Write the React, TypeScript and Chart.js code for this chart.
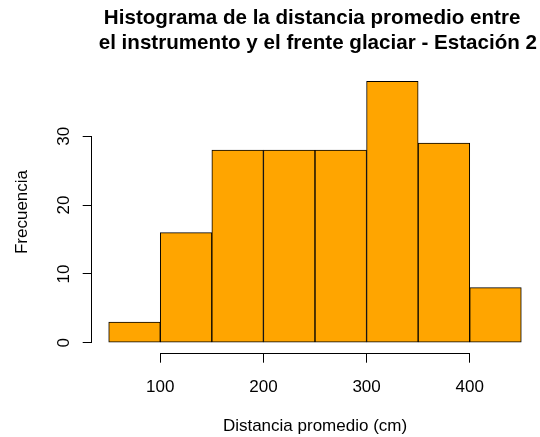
import React, { useEffect, useRef } from "react";
import { Chart, registerables } from "chart.js";

Chart.register(...registerables);

// ---- data ----
const binStarts = [50, 100, 150, 200, 250, 300, 350, 400];
const binWidth = 50;
const frequencies = [3, 16, 28, 28, 28, 38, 29, 8];
const xTicks = [100, 200, 300, 400];
const yTicks = [0, 10, 20, 30];
const titleLines = [
  "Histograma de la distancia promedio entre ",
  " el instrumento y el frente glaciar - Estación 2",
];
const xLabel = "Distancia promedio (cm)";
const yLabel = "Frecuencia";

const FONT = '"Liberation Sans", Arial, Helvetica, sans-serif';

const rAxes = {
  id: "rAxes",
  afterDraw(chart: any) {
    const { ctx } = chart;
    const x = chart.scales.x;
    const y = chart.scales.y;
    ctx.save();
    ctx.strokeStyle = "#000";
    ctx.lineWidth = 1;
    ctx.beginPath();
    const ay = Math.round(x.top) + 0.5;
    ctx.moveTo(x.getPixelForValue(xTicks[0]), ay);
    ctx.lineTo(x.getPixelForValue(xTicks[xTicks.length - 1]), ay);
    const ax = Math.round(y.right) - 0.5;
    ctx.moveTo(ax, y.getPixelForValue(yTicks[0]));
    ctx.lineTo(ax, y.getPixelForValue(yTicks[yTicks.length - 1]));
    ctx.stroke();
    ctx.restore();
  },
};

export default function App() {
  const ref = useRef<HTMLCanvasElement | null>(null);

  useEffect(() => {
    if (!ref.current) return;
    const data = binStarts.map((s, i) => ({ x: s + binWidth / 2, y: frequencies[i] }));
    const chart = new Chart(ref.current, {
      type: "bar",
      data: {
        datasets: [
          {
            data: data as any,
            backgroundColor: "#FFA500",
            borderColor: "#000",
            borderWidth: 1,
            borderSkipped: false,
            barPercentage: 1,
            categoryPercentage: 1,
          },
        ],
      },
      plugins: [rAxes],
      options: {
        responsive: false,
        animation: false,
        events: [],
        layout: { padding: { left: 0, right: 2.2, top: 0, bottom: 0 } },
        plugins: {
          legend: { display: false },
          tooltip: { enabled: false },
          title: {
            display: true,
            text: titleLines,
            fullSize: false,
            position: "top",
            align: "center",
            color: "#000",
            font: { family: FONT, size: 20.6, weight: "bold", lineHeight: "24.5px" },
            padding: { top: 6.3, bottom: 15.5 },
          },
        },
        scales: {
          x: {
            type: "linear",
            min: 34,
            max: 466,
            offset: false,
            afterBuildTicks: (scale: any) => {
              scale.ticks = xTicks.map((v) => ({ value: v }));
            },
            afterFit: (scale: any) => {
              scale.height = 83.8;
            },
            grid: {
              display: true,
              offset: false,
              drawOnChartArea: false,
              drawTicks: true,
              tickLength: 9.5,
              color: "#000",
              lineWidth: 1,
            },
            border: { display: false },
            ticks: {
              color: "#000",
              font: { family: FONT, size: 17 },
              padding: 14,
              maxRotation: 0,
              minRotation: 0,
            },
            title: {
              display: true,
              text: xLabel,
              color: "#000",
              font: { family: FONT, size: 17 },
              padding: { top: 0, bottom: 0 },
            },
          },
          y: {
            type: "linear",
            min: -1.52,
            max: 39.52,
            afterBuildTicks: (scale: any) => {
              scale.ticks = yTicks.map((v) => ({ value: v }));
            },
            afterFit: (scale: any) => {
              scale.width = 92.2;
            },
            grid: {
              display: true,
              drawOnChartArea: false,
              drawTicks: true,
              tickLength: 9.5,
              color: "#000",
              lineWidth: 1,
            },
            border: { display: false },
            ticks: {
              color: "#000",
              font: { family: FONT, size: 17 },
              padding: 9,
              minRotation: 90,
              maxRotation: 90,
              crossAlign: "center",
            },
            title: {
              display: true,
              text: yLabel,
              color: "#000",
              font: { family: FONT, size: 17 },
              padding: { top: 12, bottom: 0 },
            },
          },
        },
      } as any,
    });
    return () => chart.destroy();
  }, []);

  return (
    <div style={{ position: "fixed", left: 0, top: 0, width: 540, height: 437, background: "#fff" }}>
      <canvas ref={ref} width={540} height={437} style={{ width: 540, height: 437, display: "block" }} />
    </div>
  );
}
